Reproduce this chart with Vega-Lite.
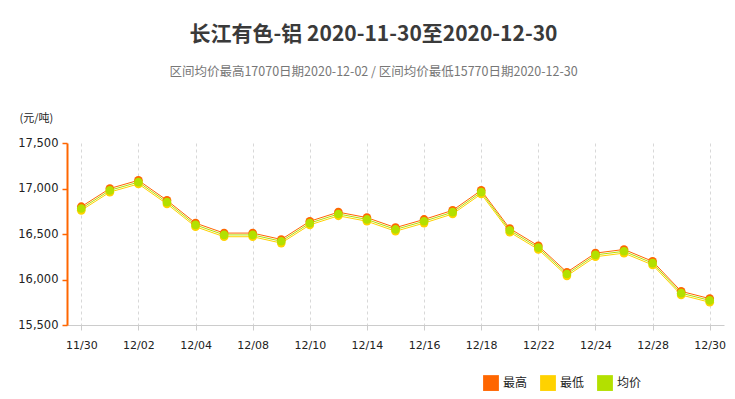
{
  "$schema": "https://vega.github.io/schema/vega-lite/v6.json",
  "autosize": "none",
  "width": 657,
  "height": 182,
  "padding": {"left": 67, "top": 143, "right": 11, "bottom": 74},
  "background": "white",
  "title": {
    "text": "长江有色-铝 2020-11-30至2020-12-30",
    "subtitle": "区间均价最高17070日期2020-12-02 / 区间均价最低15770日期2020-12-30",
    "anchor": "middle",
    "frame": "group",
    "dx": -22,
    "offset": 34,
    "font": "Noto Sans CJK SC",
    "fontSize": 21,
    "fontWeight": "bold",
    "color": "#3a3a3a",
    "subtitleFont": "Noto Sans CJK SC",
    "subtitleFontSize": 12.5,
    "subtitleColor": "#777777",
    "subtitlePadding": 21
  },
  "data": {
    "values": [
      {"date": "11/30", "最高": 16800, "最低": 16760, "均价": 16780},
      {"date": "12/01", "最高": 17000, "最低": 16960, "均价": 16980},
      {"date": "12/02", "最高": 17090, "最低": 17050, "均价": 17070},
      {"date": "12/03", "最高": 16870, "最低": 16830, "均价": 16850},
      {"date": "12/04", "最高": 16620, "最低": 16580, "均价": 16600},
      {"date": "12/07", "最高": 16510, "最低": 16470, "均价": 16490},
      {"date": "12/08", "最高": 16510, "最低": 16470, "均价": 16490},
      {"date": "12/09", "最高": 16440, "最低": 16400, "均价": 16420},
      {"date": "12/10", "最高": 16640, "最低": 16600, "均价": 16620},
      {"date": "12/11", "最高": 16740, "最低": 16700, "均价": 16720},
      {"date": "12/14", "最高": 16680, "最低": 16640, "均价": 16660},
      {"date": "12/15", "最高": 16570, "最低": 16530, "均价": 16550},
      {"date": "12/16", "最高": 16660, "最低": 16620, "均价": 16640},
      {"date": "12/17", "最高": 16760, "最低": 16720, "均价": 16740},
      {"date": "12/18", "最高": 16980, "最低": 16940, "均价": 16960},
      {"date": "12/21", "最高": 16560, "最低": 16520, "均价": 16540},
      {"date": "12/22", "最高": 16370, "最低": 16330, "均价": 16350},
      {"date": "12/23", "最高": 16080, "最低": 16040, "均价": 16060},
      {"date": "12/24", "最高": 16290, "最低": 16250, "均价": 16270},
      {"date": "12/25", "最高": 16330, "最低": 16290, "均价": 16310},
      {"date": "12/28", "最高": 16200, "最低": 16160, "均价": 16180},
      {"date": "12/29", "最高": 15870, "最低": 15830, "均价": 15850},
      {"date": "12/30", "最高": 15790, "最低": 15750, "均价": 15770}
    ]
  },
  "transform": [
    {"fold": ["最高", "最低", "均价"], "as": ["series", "value"]}
  ],
  "encoding": {
    "x": {
      "field": "date",
      "type": "ordinal",
      "sort": null,
      "scale": {"type": "point", "padding": 0.5},
      "axis": {
        "title": null,
        "values": ["11/30", "12/02", "12/04", "12/08", "12/10", "12/14", "12/16", "12/18", "12/22", "12/24", "12/28", "12/30"],
        "labelAngle": 0,
        "labelFont": "DejaVu Sans",
        "labelFontSize": 11,
        "labelColor": "#222222",
        "labelPadding": 9,
        "domainColor": "#cccccc",
        "tickColor": "#cccccc",
        "tickSize": 5,
        "grid": true,
        "gridColor": "#d8d8d8",
        "gridDash": [3, 3]
      }
    },
    "y": {
      "field": "value",
      "type": "quantitative",
      "scale": {"domain": [15500, 17500], "nice": false, "zero": false},
      "axis": {
        "values": [15500, 16000, 16500, 17000, 17500],
        "format": ",.0f",
        "grid": false,
        "title": "(元/吨)",
        "titleAngle": 0,
        "titleAlign": "left",
        "titleBaseline": "middle",
        "titleX": -48,
        "titleY": -25,
        "titleFont": "Noto Sans CJK SC",
        "titleFontSize": 11,
        "titleFontWeight": "normal",
        "titleColor": "#222222",
        "labelFont": "DejaVu Sans",
        "labelFontSize": 11.5,
        "labelColor": "#222222",
        "labelPadding": 4,
        "domainColor": "#ff6600",
        "domainWidth": 2,
        "tickColor": "#ff6600",
        "tickSize": 5,
        "tickWidth": 1.5
      }
    },
    "color": {
      "field": "series",
      "type": "nominal",
      "sort": ["最高", "最低", "均价"],
      "scale": {"domain": ["最高", "最低", "均价"], "range": ["#ff6600", "#ffd200", "#b3e000"]},
      "legend": {
        "title": null,
        "orient": "none",
        "direction": "horizontal",
        "legendX": 416,
        "legendY": 232,
        "symbolType": "square",
        "symbolSize": 250,
        "symbolStrokeWidth": 0,
        "symbolOpacity": 1,
        "labelFont": "Noto Sans CJK SC",
        "labelFontSize": 12,
        "labelColor": "#222222",
        "columnPadding": 12,
        "symbolOffset": 0
      }
    }
  },
  "layer": [
    {"mark": {"type": "line", "strokeWidth": 1}, "encoding": {"detail": {"field": "series"}}},
    {"mark": {"type": "point", "filled": true, "opacity": 1, "size": 75, "shape": "circle"}}
  ],
  "config": {"view": {"stroke": null}}
}
